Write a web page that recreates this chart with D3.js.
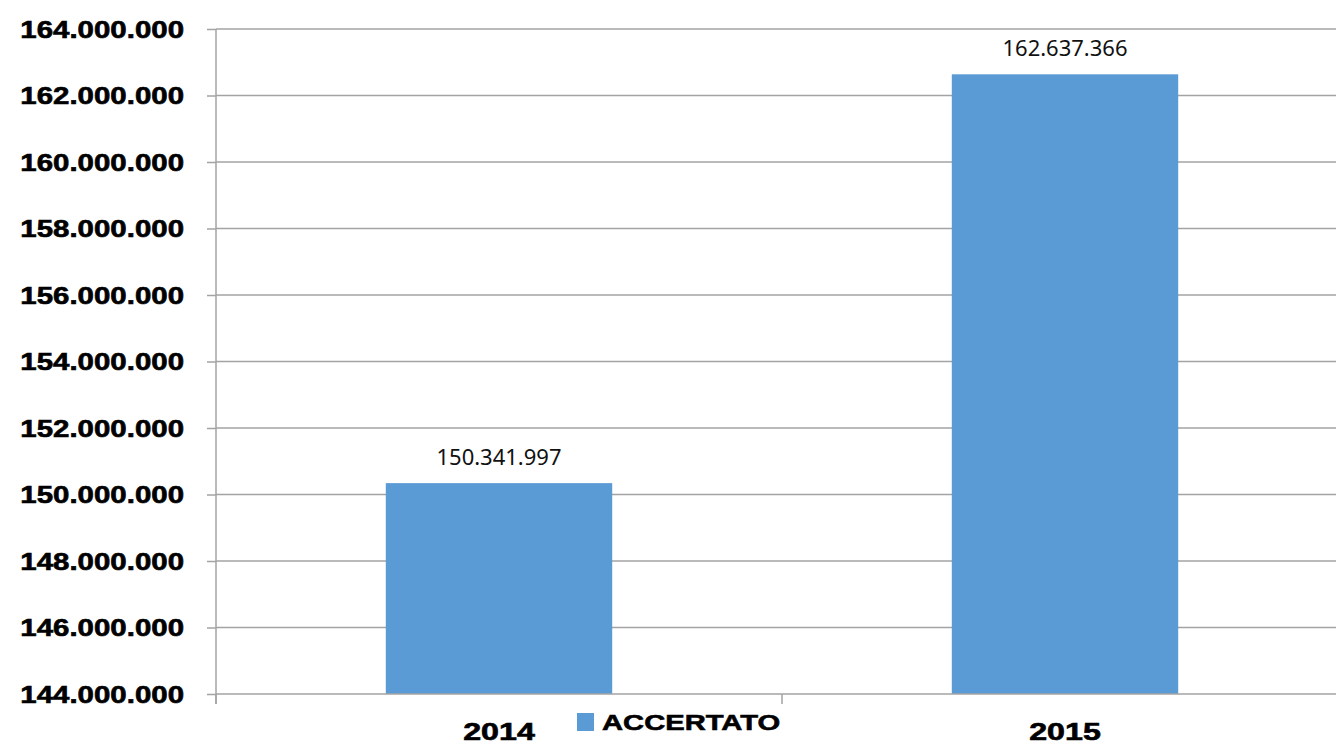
<!DOCTYPE html>
<html>
<head>
<meta charset="utf-8">
<script src="https://cdn.jsdelivr.net/npm/d3@7"></script>
<style>
  html, body { margin: 0; padding: 0; background: #fff; overflow: hidden; }
  svg { display: block; }
</style>
</head>
<body>
<svg id="chart" width="1336" height="744"></svg>
<script>
// Accertato per anno
const categories = ["2014", "2015"];
const values = [150341997, 162637366];
const seriesName = "ACCERTATO";
const yTicks = [144000000, 146000000, 148000000, 150000000, 152000000, 154000000,
                156000000, 158000000, 160000000, 162000000, 164000000];

const W = 1336, H = 744;
const plotLeft = 216, plotRight = 1348, plotTop = 29, plotBottom = 694;
const barColor = "#5b9bd5";
const gridColor = "#a3a3a3";
const stretch = 1.28; // wide bold label face

const svg = d3.select("#chart");

// Italian-style thousands separators
const fmt = d3.formatLocale({ decimal: ",", thousands: ".", grouping: [3], currency: ["€", ""] }).format(",d");

const x = d3.scaleBand().domain(categories).range([plotLeft, plotRight])
  .paddingInner(0.6).paddingOuter(0.3);
const y = d3.scaleLinear().domain([144000000, 164000000]).range([plotBottom, plotTop]);

// heavy black label style
function heavy(sel, size) {
  sel.attr("font-family", "'Liberation Sans', Arial, sans-serif")
    .attr("font-weight", "bold")
    .attr("font-size", size)
    .attr("fill", "#000")
    .attr("stroke", "#000")
    .attr("stroke-width", 0.6);
}

// horizontal gridlines
svg.append("g")
  .selectAll("line")
  .data(yTicks.slice(1))
  .join("line")
  .attr("x1", plotLeft).attr("x2", W)
  .attr("y1", d => y(d)).attr("y2", d => y(d))
  .attr("stroke", gridColor).attr("stroke-width", 1.5);

// bars
svg.append("g")
  .selectAll("rect")
  .data(values)
  .join("rect")
  .attr("x", (d, i) => x(categories[i]))
  .attr("width", x.bandwidth())
  .attr("y", d => y(d))
  .attr("height", d => plotBottom - y(d))
  .attr("fill", barColor);

// value labels
svg.append("g")
  .selectAll("text")
  .data(values)
  .join("text")
  .attr("x", (d, i) => x(categories[i]) + x.bandwidth() / 2)
  .attr("y", d => y(d) - 18)
  .attr("text-anchor", "middle")
  .attr("font-family", "'Noto Sans', 'Open Sans', sans-serif")
  .attr("font-size", 22)
  .attr("fill", "#111")
  .text(d => fmt(d));

// y axis
const yAxis = d3.axisLeft(y).tickValues(yTicks).tickSize(9).tickPadding(0).tickFormat(fmt);
const gy = svg.append("g").attr("transform", `translate(${plotLeft},0)`).call(yAxis);
gy.select(".domain").attr("stroke", gridColor).attr("stroke-width", 1.5)
  .attr("d", `M0,${plotTop}V${plotBottom + 10}`);
gy.selectAll(".tick line").attr("stroke", gridColor).attr("stroke-width", 1.5);
gy.selectAll(".tick text")
  .attr("x", -32 / stretch)
  .attr("dy", "0.35em")
  .attr("transform", `scale(${stretch},1)`)
  .call(heavy, 23);

// x axis
const xAxis = d3.axisBottom(x).tickSize(0).tickPadding(0);
const gx = svg.append("g").attr("transform", `translate(0,${plotBottom})`).call(xAxis);
gx.select(".domain").attr("stroke", gridColor).attr("stroke-width", 1.5)
  .attr("d", `M${plotLeft},0H${W}`);
gx.selectAll(".tick text")
  .attr("y", 46)
  .attr("dy", 0)
  .attr("x", 0)
  .attr("transform", `scale(1.4,1)`)
  .call(heavy, 23);

// category boundary ticks
const bounds = [plotLeft, plotLeft + x.step(), plotLeft + 2 * x.step()];
svg.append("g").selectAll("line").data(bounds).join("line")
  .attr("x1", d => d).attr("x2", d => d)
  .attr("y1", plotBottom).attr("y2", plotBottom + 10)
  .attr("stroke", gridColor).attr("stroke-width", 1.5);

// legend
const legend = svg.append("g").attr("transform", "translate(577,713)");
legend.append("rect").attr("width", 17).attr("height", 18).attr("fill", barColor);
legend.append("text")
  .attr("transform", `translate(25,16.5) scale(${stretch},1)`)
  .text(seriesName)
  .call(heavy, 22.8);
</script>
</body>
</html>
